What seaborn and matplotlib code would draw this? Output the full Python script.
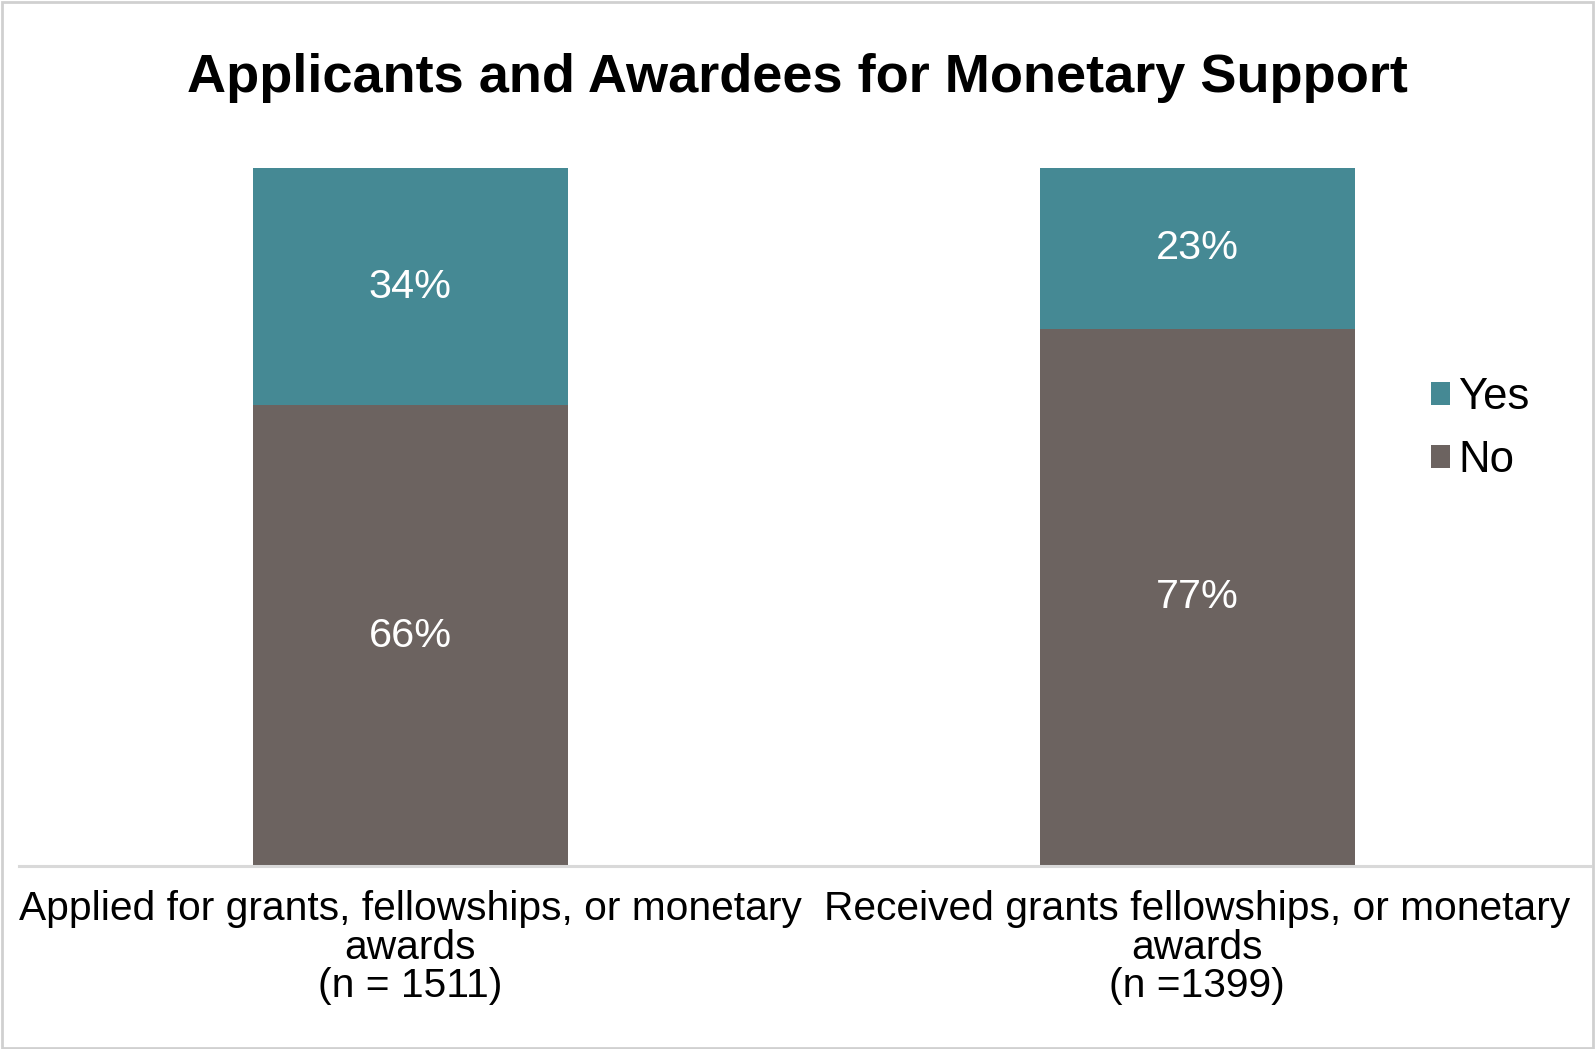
import matplotlib
matplotlib.use("Agg")
import matplotlib.pyplot as plt
import seaborn as sns
import pandas as pd
from matplotlib.patches import Rectangle, Patch

categories = ["Applied for grants, fellowships, or monetary\nawards\n(n = 1511)",
              "Received grants fellowships, or monetary\nawards\n(n =1399)"]
yes_vals = [34, 23]
no_vals = [66, 77]
series_names = ["Yes", "No"]

YES_C = "#458994"
NO_C = "#6C6360"

sns.set_theme(style="white")
plt.rcParams['font.family'] = ['Liberation Sans', 'DejaVu Sans']

W, H = 1595, 1049
fig = plt.figure(figsize=(W / 100, H / 100), dpi=100)
ax = fig.add_axes([19 / W, 183 / H, (1590 - 19) / W, (866 - 168) / H])

df = pd.DataFrame({"cat": categories,
                   "total": [y + n for y, n in zip(yes_vals, no_vals)],
                   "no": no_vals})
sns.barplot(data=df, x="cat", y="total", color=YES_C, saturation=1, width=0.4, ax=ax)
sns.barplot(data=df, x="cat", y="no", color=NO_C, saturation=1, width=0.4, ax=ax)
for p in ax.patches:
    p.set_edgecolor("none")

ax.set_xlim(-0.497, 1.499)
ax.set_ylim(0, 100)
ax.set_xlabel("")
ax.set_ylabel("")
ax.set_yticks([])
for s in ["top", "right", "left"]:
    ax.spines[s].set_visible(False)
ax.spines["bottom"].set_color("#D9D9D9")
ax.spines["bottom"].set_linewidth(2.2)
ax.tick_params(axis="x", length=0, pad=17, labelsize=29.3, colors="black")
for lbl in ax.get_xticklabels():
    lbl.set_linespacing(1.03)

for i, (y, n) in enumerate(zip(yes_vals, no_vals)):
    ax.text(i, n / 2, f"{n}%", ha="center", va="center", color="white", fontsize=29.8)
    ax.text(i, n + y / 2, f"{y}%", ha="center", va="center", color="white", fontsize=29.8)

fig.text(0.5, 1 - 78 / H, "Applicants and Awardees for Monetary Support",
         ha="center", va="center", fontsize=39, fontweight="bold", color="black")

handles = [Patch(facecolor=YES_C, edgecolor="none"), Patch(facecolor=NO_C, edgecolor="none")]
fig.legend(handles, series_names, loc="center left", bbox_to_anchor=(1392 / W, 1 - 429 / H),
           frameon=False, fontsize=31.5, handlelength=0.42, handleheight=0.42,
           handletextpad=0.2, labelspacing=0.5, labelcolor="black")

fig.patches.append(Rectangle((0.001, 0.001), 0.998, 0.997, transform=fig.transFigure,
                             fill=False, edgecolor="#D0D0D0", linewidth=2))

fig.savefig("out.png", dpi=100, facecolor="white")
